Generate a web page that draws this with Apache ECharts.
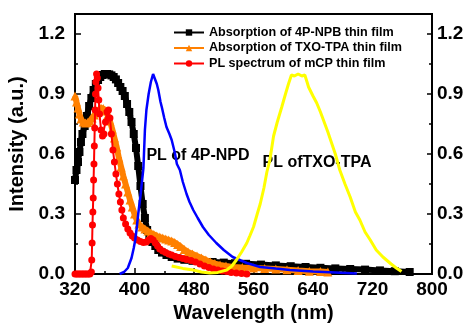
<!DOCTYPE html>
<html>
<head>
<meta charset="utf-8">
<script src="https://cdn.jsdelivr.net/npm/echarts@6/dist/echarts.min.js"></script>
<style>html,body{margin:0;padding:0;background:#fff}#c{width:469px;height:326px}</style>
</head>
<body>
<div id="c"></div>
<script>
// ---- data ----
const seriesNames = ['Absorption of 4P-NPB thin film', 'Absorption of TXO-TPA thin film', 'PL spectrum of mCP thin film'];
const annotationTexts = ['PL of 4P-NPD', 'PL ofTXO-TPA'];
const xTicks = [320, 400, 480, 560, 640, 720, 800];
const yTicks = [0.0, 0.3, 0.6, 0.9, 1.2];

const npbWl = [320,322,324,326,328,330,333,336,339,342,345,348,351,354,357,360,363,366,369,372,375,378,381,384,387,390,393,396,399,402,405,408,411,414,417,420,424,428,432,437,443,450,458,467,478,490,505,520,535,550,570,590,610,630,650,670,690,710,730,750,770];
const npbAbs = [0.47,0.52,0.56,0.61,0.66,0.70,0.74,0.79,0.84,0.88,0.92,0.95,0.97,0.985,0.995,1.0,1.0,0.998,0.993,0.985,0.973,0.955,0.935,0.915,0.89,0.85,0.81,0.76,0.70,0.63,0.54,0.44,0.35,0.28,0.22,0.185,0.16,0.14,0.12,0.107,0.095,0.085,0.077,0.071,0.066,0.063,0.06,0.057,0.054,0.051,0.047,0.043,0.039,0.035,0.031,0.028,0.025,0.022,0.018,0.014,0.01];

const txoWl = [320,322,324,326,328,331,334,337,340,343,346,349,352,355,358,361,364,367,370,373,376,379,382,385,388,391,394,397,400,403,406,410,414,418,422,426,430,434,438,442,446,450,454,458,462,467,472,478,484,490,496,502,508,515,523,532,545,560,575,590,605,620,635,650,660];
const txoAbs = [0.89,0.86,0.83,0.80,0.775,0.76,0.755,0.757,0.765,0.78,0.795,0.81,0.822,0.83,0.827,0.815,0.795,0.765,0.725,0.68,0.635,0.58,0.535,0.49,0.45,0.41,0.37,0.335,0.30,0.27,0.25,0.235,0.225,0.215,0.205,0.198,0.19,0.185,0.18,0.175,0.17,0.165,0.158,0.148,0.137,0.122,0.11,0.10,0.09,0.08,0.07,0.06,0.052,0.045,0.04,0.035,0.032,0.03,0.028,0.025,0.021,0.017,0.014,0.012,0.01];

const mcpWl = [320,322,324,326,328,330,332,334,336,338,340,342,342.5,343,343.5,344,344.5,345,345.5,346,346.5,347,347.5,348,349,350,351,352,353,355,357,359,361,363,365,367,369,371,373,375,377,379,381,383,385,388,391,394,397,400,404,408,412,416,419,422,425,428,431,434,438,442,446,450,455,460,465,470,476,482,488,494,500,506,512,518,524,530,537,544,551];
const mcpPl = [0,0,0,0,0,0,0,0,0,0,0,0.01,0.07,0.155,0.245,0.31,0.38,0.47,0.55,0.64,0.73,0.82,0.90,0.96,1.0,0.98,0.93,0.87,0.80,0.72,0.69,0.70,0.76,0.81,0.82,0.78,0.70,0.62,0.56,0.50,0.45,0.40,0.36,0.32,0.28,0.25,0.225,0.205,0.19,0.18,0.17,0.162,0.157,0.16,0.17,0.177,0.17,0.155,0.14,0.125,0.115,0.107,0.10,0.095,0.088,0.082,0.077,0.073,0.068,0.06,0.05,0.04,0.032,0.025,0.02,0.015,0.012,0.008,0.005,0.002,0];

const npdWl = [380,386,391,396,399,401,403,405,408,410,412,414,416,419,422,425,427,430,432,435,437,440,443,447,450,454,457,461,465,470,474,479,485,492,500,510,520,532,551,569,590,609,640,670,699];
const npdPl = [0,0.01,0.03,0.08,0.13,0.17,0.23,0.30,0.39,0.46,0.53,0.72,0.82,0.90,0.96,1.0,0.99,0.95,0.92,0.86,0.83,0.78,0.735,0.70,0.67,0.61,0.55,0.52,0.46,0.40,0.36,0.32,0.28,0.235,0.195,0.155,0.12,0.085,0.055,0.035,0.027,0.02,0.013,0.008,0.003];

const tpaWl = [450,465,479,490,501,512,524,531,537,544,551,555,560,565,569,574,578,582,587,592,598,603,607,611,615,620,625,629,632,634,640,645,650,654,660,665,670,676,683,690,697,703,710,717,725,734,745,752,759];
const tpaPl = [0.04,0.028,0.02,0.01,0.005,0.008,0.02,0.04,0.07,0.11,0.155,0.19,0.235,0.30,0.35,0.43,0.51,0.57,0.69,0.76,0.835,0.90,0.95,0.995,0.99,1.0,0.99,0.995,0.96,0.935,0.89,0.855,0.81,0.77,0.71,0.655,0.60,0.52,0.45,0.385,0.31,0.27,0.21,0.17,0.12,0.085,0.05,0.03,0.012];

// ---- chart ----
const zip = (a, b) => a.map((x, i) => [x, b[i]]);
const FONT = "'Liberation Sans', Arial, sans-serif";
const chart = echarts.init(document.getElementById('c'), null, {renderer: 'canvas'});

const axisCommon = {
  axisLine: {show: true, lineStyle: {color: '#000', width: 2}},
  axisTick: {show: true, inside: true, length: 6, lineStyle: {color: '#000', width: 1.5}},
  minorTick: {show: true, splitNumber: 2, length: 3, lineStyle: {color: '#000', width: 1.5}},
  splitLine: {show: false},
  axisLabel: {color: '#000', fontWeight: 'bold', fontSize: 19, fontFamily: FONT}
};
const yLabelFmt = v => yTicks.some(t => Math.abs(t - v) < 1e-6) ? v.toFixed(1) : '';

chart.setOption({
  animation: false,
  backgroundColor: '#fff',
  grid: {left: 75, right: 37, top: 14, bottom: 52, containLabel: false, outerBoundsMode: 'none',
         show: true, borderColor: '#000', borderWidth: 2},
  legend: {
    data: seriesNames,
    orient: 'vertical', left: 173, top: 26, padding: 0,
    itemWidth: 30, itemHeight: 8, itemGap: 2.5,
    textStyle: {color: '#000', fontWeight: 'bold', fontSize: 12.6, fontFamily: FONT}
  },
  xAxis: Object.assign({}, axisCommon, {
    type: 'value', min: xTicks[0], max: xTicks[xTicks.length - 1], interval: 80,
    name: 'Wavelength (nm)', nameLocation: 'middle', nameGap: 28,
    nameTextStyle: {color: '#000', fontWeight: 'bold', fontSize: 20, fontFamily: FONT},
    axisLabel: Object.assign({}, axisCommon.axisLabel, {margin: 6})
  }),
  yAxis: [
    Object.assign({}, axisCommon, {
      type: 'value', min: 0, max: 1.3, interval: 0.3, position: 'left',
      name: 'Intensity (a.u.)', nameLocation: 'middle', nameGap: 42,
      nameTextStyle: {color: '#000', fontWeight: 'bold', fontSize: 20, fontFamily: FONT},
      axisLabel: Object.assign({}, axisCommon.axisLabel, {margin: 10, showMaxLabel: false, formatter: yLabelFmt})
    }),
    Object.assign({}, axisCommon, {
      type: 'value', min: 0, max: 1.3, interval: 0.3, position: 'right',
      axisTick: Object.assign({}, axisCommon.axisTick, {length: 5}),
      axisLabel: Object.assign({}, axisCommon.axisLabel, {margin: 5, showMaxLabel: false, formatter: yLabelFmt})
    })
  ],
  graphic: [
    {type: 'text', x: 198, y: 156, style: {text: annotationTexts[0], fill: '#000', font: "bold 16px " + FONT, textAlign: 'center', textVerticalAlign: 'middle'}},
    {type: 'text', x: 317, y: 163, style: {text: annotationTexts[1], fill: '#000', font: "bold 16px " + FONT, textAlign: 'center', textVerticalAlign: 'middle'}}
  ],
  series: [
    {name: seriesNames[0], type: 'line', data: zip(npbWl, npbAbs), color: '#000',
     symbol: 'rect', symbolSize: 8, showSymbol: true, lineStyle: {width: 6, color: '#000'}, itemStyle: {color: '#000'}, z: 2},
    {name: seriesNames[1], type: 'line', data: zip(txoWl, txoAbs), color: '#ff8000',
     symbol: 'triangle', symbolSize: 9, showSymbol: true, lineStyle: {width: 6, color: '#ff8000'}, itemStyle: {color: '#ff8000'}, z: 3},
    {name: seriesNames[2], type: 'line', data: zip(mcpWl, mcpPl), color: '#ff0000',
     symbol: 'circle', symbolSize: 7, showSymbol: true, lineStyle: {width: 2, color: '#ff0000'}, itemStyle: {color: '#ff0000'}, z: 4},
    {name: 'PL of 4P-NPD', type: 'line', data: zip(npdWl, npdPl), symbol: 'none',
     lineStyle: {width: 2.5, color: '#0000ff'}, itemStyle: {color: '#0000ff'}, z: 5},
    {name: 'PL of TXO-TPA', type: 'line', data: zip(tpaWl, tpaPl), symbol: 'none',
     lineStyle: {width: 3, color: '#ffff00'}, itemStyle: {color: '#ffff00'}, z: 6}
  ]
});
</script>
</body>
</html>
